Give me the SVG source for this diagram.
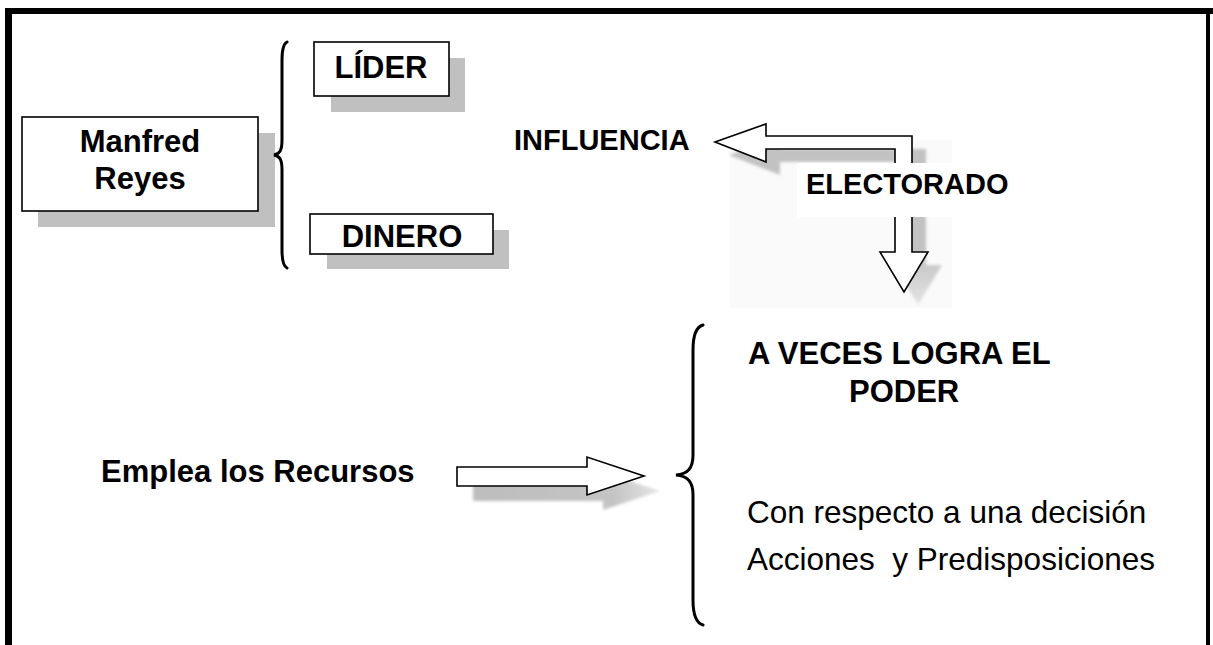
<svg xmlns="http://www.w3.org/2000/svg" width="1213" height="645" viewBox="0 0 1213 645">
<defs>
<style>
.box{fill:#fff;stroke:#000;stroke-width:1.6}
.shadow{fill:#c0c0c0}
.b{font-family:"Liberation Sans",Arial,sans-serif;font-weight:bold;font-size:31px;fill:#000}
.r{font-family:"Liberation Sans",Arial,sans-serif;font-size:31.5px;fill:#000}
.brace{fill:none;stroke:#000;stroke-width:3;stroke-linecap:round}
.arrow{fill:#fff;stroke:#000;stroke-width:1.6;stroke-linejoin:miter}
</style>
<linearGradient id="shH" x1="0" y1="0" x2="1" y2="0">
<stop offset="0" stop-color="#bdbdbd"/>
<stop offset="0.75" stop-color="#c4c4c4"/>
<stop offset="1" stop-color="#e6e6e6"/>
</linearGradient>
<linearGradient id="shL" x1="0" y1="0" x2="0" y2="1">
<stop offset="0" stop-color="#c2c2c2"/>
<stop offset="0.7" stop-color="#c2c2c2"/>
<stop offset="1" stop-color="#e4e4e4"/>
</linearGradient>
<filter id="soft" x="-10%" y="-10%" width="120%" height="120%">
<feGaussianBlur stdDeviation="1.5"/>
</filter>
</defs>
<rect width="1213" height="645" fill="#fff"/>
<g id="frame">
<rect x="5" y="8" width="7" height="637" fill="#000"/>
<rect x="5" y="8" width="1208" height="6" fill="#000"/>
<rect x="1206" y="8" width="4" height="637" fill="#000"/>
</g>
<g id="node-manfred">
<rect class="shadow" x="38" y="133" width="237" height="94"/>
<rect class="box" x="22" y="117" width="236" height="94"/>
<text class="b" x="140" y="152" text-anchor="middle">Manfred</text>
<text class="b" x="140" y="189" text-anchor="middle">Reyes</text>
</g>
<g id="node-lider">
<rect class="shadow" x="331" y="58" width="134" height="54"/>
<rect class="box" x="314" y="42" width="135" height="54"/>
<text class="b" x="381" y="78" text-anchor="middle">LÍDER</text>
</g>
<g id="node-dinero">
<rect class="shadow" x="327" y="230" width="182" height="39"/>
<rect class="box" x="310" y="214" width="183" height="40"/>
<text class="b" x="402" y="247" text-anchor="middle">DINERO</text>
</g>
<g id="node-influencia">
<text class="b" x="514" y="150" style="font-size:29px">INFLUENCIA</text>
</g>
<g id="node-electorado-bg">
<rect x="730" y="140" width="222" height="168" fill="#fafafa"/>
</g>
<g id="connectors">
<path class="brace" d="M287,42 C283,44 282,50 282,60 L282,140 C282,150 280,154 274,155 C280,156 282,160 282,170 L282,250 C282,260 283,266 287,268"/>
<path class="brace" d="M703,325 C696,327 693,335 693,350 L693,455 C693,468 688,474 676,475 C688,476 693,482 693,495 L693,600 C693,615 696,623 703,625"/>
<polygon points="729,155 780,137 780,149 926,149 926,265 942,265 918,305 894,265 909,265 909,162 780,162 780,175" fill="url(#shL)" filter="url(#soft)"/>
<polygon class="arrow" points="715,142 766,124 766,136 912,136 912,252 928,252 904,292 880,252 895,252 895,149 766,149 766,162"/>
<polygon points="473,482 603,482 603,472 660,491 603,510 603,501 473,501" fill="url(#shH)" filter="url(#soft)"/>
<polygon class="arrow" points="457,467 587,467 587,457 644,476 587,495 587,486 457,486"/>
</g>
<g id="node-electorado">
<rect x="797" y="163" width="215" height="54" fill="#fff"/>
<text class="b" x="806" y="194" style="font-size:29px">ELECTORADO</text>
</g>
<g id="node-emplea">
<text class="b" x="101" y="482">Emplea los Recursos</text>
</g>
<g id="node-poder">
<text class="b" x="748" y="364">A VECES LOGRA EL</text>
<text class="b" x="849" y="402">PODER</text>
</g>
<g id="node-decision">
<text class="r" x="747" y="523">Con respecto a una decisión</text>
<text class="r" x="747" y="570" xml:space="preserve">Acciones  y Predisposiciones</text>
</g>
</svg>
